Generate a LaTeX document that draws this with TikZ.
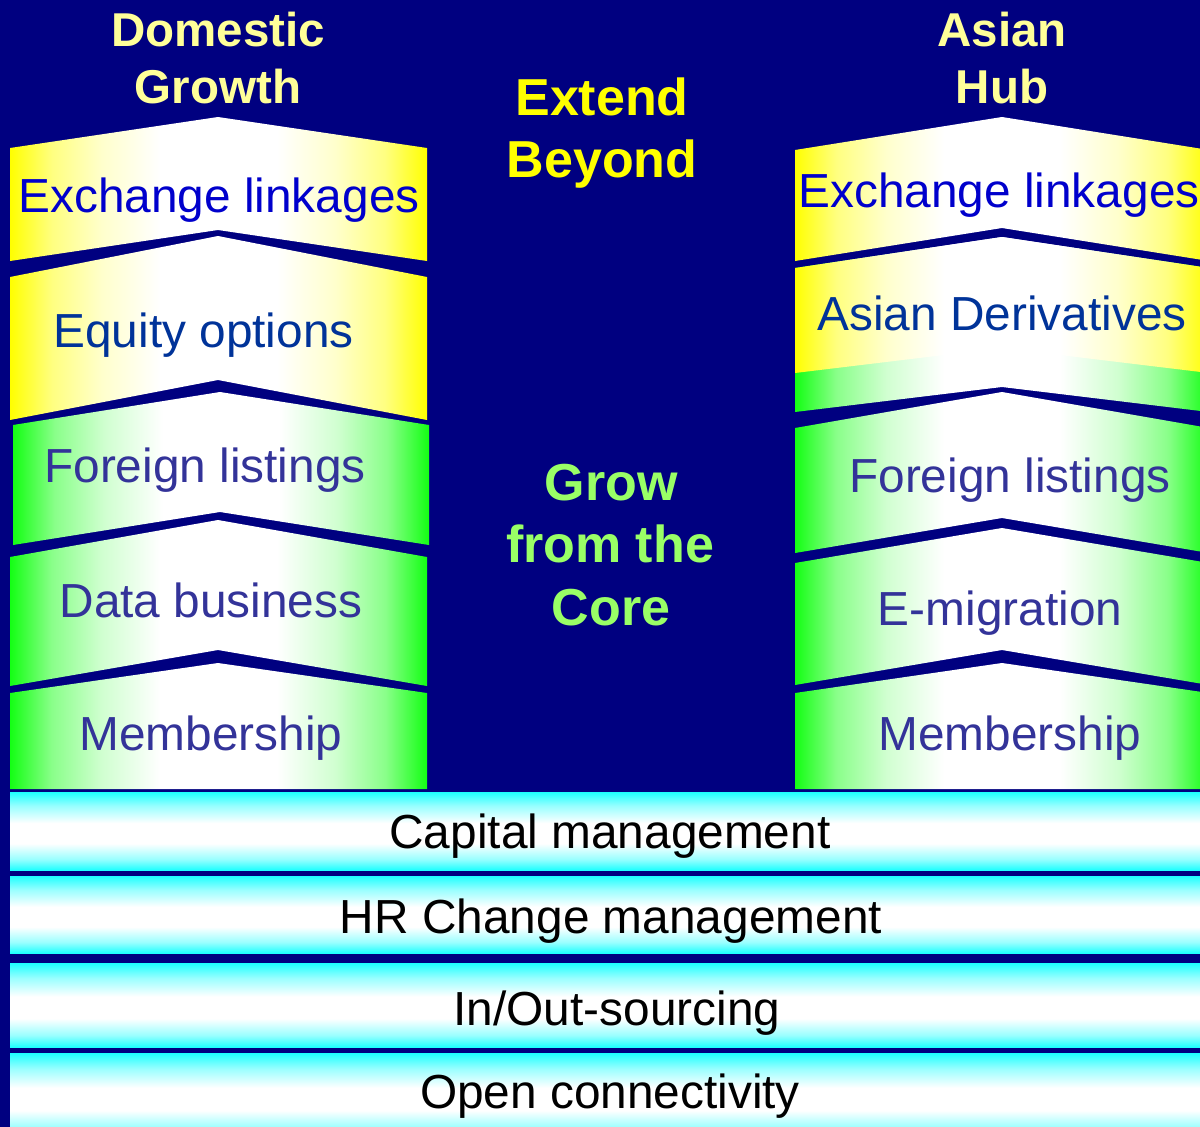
\documentclass[tikz,border=0pt]{standalone}
\usepackage{fontspec}
\setmainfont{Liberation Sans}
\definecolor{bg}{RGB}{0,0,128}
\definecolor{cy}{RGB}{255,255,0}
\definecolor{cg}{RGB}{20,255,20}
\definecolor{cc}{RGB}{30,255,255}
\colorlet{cy50}{cy!50!white}
\colorlet{cy20}{cy!20!white}
\colorlet{cg50}{cg!50!white}
\colorlet{cg20}{cg!20!white}
\colorlet{cc40}{cc!45!white}
\definecolor{hdryellow}{RGB}{255,255,153}
\definecolor{extyellow}{RGB}{255,255,0}
\definecolor{growgreen}{RGB}{153,255,102}
\definecolor{txtblue}{RGB}{0,0,204}
\definecolor{txtnavy}{RGB}{0,51,153}
\definecolor{txtpurple}{RGB}{51,51,153}
\pgfdeclarehorizontalshading{yshade}{100bp}{color(0bp)=(cy); color(25bp)=(cy); color(30bp)=(cy50); color(36bp)=(cy20); color(43bp)=(white); color(57bp)=(white); color(64bp)=(cy20); color(70bp)=(cy50); color(75bp)=(cy); color(100bp)=(cy)}
\pgfdeclarehorizontalshading{gshade}{100bp}{color(0bp)=(cg); color(25bp)=(cg); color(30bp)=(cg50); color(36bp)=(cg20); color(43bp)=(white); color(57bp)=(white); color(64bp)=(cg20); color(70bp)=(cg50); color(75bp)=(cg); color(100bp)=(cg)}
\pgfdeclareverticalshading{cshade}{100bp}{color(0bp)=(cc); color(25bp)=(cc); color(32bp)=(cc40); color(42bp)=(white); color(55bp)=(white); color(66bp)=(cc40); color(75bp)=(cc); color(100bp)=(cc)}
% #1 left x, #2 right x, #3 centre x, #4 top side y, #5 top peak y, #6 bottom side y, #7 bottom peak y, #8 shading
\newcommand\chevbox[8]{\shade[shading=#8] (#1,#4) -- (#3,#5) -- (#2,#4) -- (#2,#6) -- (#3,#7) -- (#1,#6) -- cycle;}
\tikzset{
  lbl/.style={inner sep=0pt, anchor=base, font=\fontsize{47.8pt}{57pt}\selectfont},
  hdr/.style={inner sep=0pt, anchor=base, font=\fontsize{47.5pt}{57pt}\selectfont\bfseries, text=hdryellow},
  big/.style={inner sep=0pt, anchor=base, font=\fontsize{52pt}{62pt}\selectfont\bfseries}
}
\begin{document}
\begin{tikzpicture}[x=1pt,y=-1pt]
\useasboundingbox (0,0) rectangle (1200,1127);
\clip (0,0) rectangle (1200,1127);
\fill[bg] (0,0) rectangle (1200,1127);
% left column
\chevbox{10}{427}{218}{148}{117}{261}{230}{yshade}
\chevbox{10}{427}{218}{277}{236}{420}{380}{yshade}
\chevbox{13}{429}{220}{425}{392}{545}{512}{gshade}
\chevbox{10}{427}{218}{557}{520}{686}{650}{gshade}
\chevbox{10}{427}{218}{693}{663}{789}{789}{gshade}
% right column
\chevbox{795}{1209}{1002}{150}{117}{261}{228}{yshade}
\chevbox{795}{1209}{1002}{268}{237}{412}{387}{gshade}
\chevbox{795}{1209}{1002}{268}{237}{373}{348}{yshade}
\chevbox{795}{1209}{1002}{428}{392}{553}{518}{gshade}
\chevbox{795}{1209}{1002}{563}{528}{685}{650}{gshade}
\chevbox{795}{1209}{1002}{693}{663}{789}{789}{gshade}
% bottom bands
\shade[shading=cshade] (10,792) rectangle (1210,870);
\shade[shading=cshade] (10,876) rectangle (1210,953);
\shade[shading=cshade] (10,963) rectangle (1210,1047);
\shade[shading=cshade] (10,1053) rectangle (1210,1140);
% headers
\node[hdr] (dom1) at (218,46) {Domestic};
\node[hdr] (dom2) at (218,103) {Growth};
\node[hdr] (asia1) at (1002,46) {Asian};
\node[hdr] (asia2) at (1002,103) {Hub};
\node[big, text=extyellow] (ext1) at (602,115) {Extend};
\node[big, text=extyellow] (ext2) at (602,177) {Beyond};
\node[big, text=growgreen] (grow1) at (611,500) {Grow};
\node[big, text=growgreen] (grow2) at (610,562) {from the};
\node[big, text=growgreen] (grow3) at (611,625) {Core};
% left labels
\node[lbl, text=txtblue] (lexch) at (219,212) {Exchange linkages};
\node[lbl, text=txtnavy] (lequ) at (203.5,347) {Equity options};
\node[lbl, text=txtpurple] (lfor) at (205,482) {Foreign listings};
\node[lbl, text=txtpurple] (ldata) at (211,617) {Data business};
\node[lbl, text=txtpurple] (lmem) at (211,750) {Membership};
% right labels
\node[lbl, text=txtblue] (rexch) at (999,207) {Exchange linkages};
\node[lbl, text=txtnavy] (rasd) at (1002,330) {Asian Derivatives};
\node[lbl, text=txtpurple] (rfor) at (1010,492) {Foreign listings};
\node[lbl, text=txtpurple] (remig) at (1000,625) {E-migration};
\node[lbl, text=txtpurple] (rmem) at (1010,750) {Membership};
% band labels
\node[lbl, text=black] (cap) at (610,848) {Capital management};
\node[lbl, text=black] (hr) at (611,933) {HR Change management};
\node[lbl, text=black] (src) at (617,1025) {In/Out-sourcing};
\node[lbl, text=black] (conn) at (610,1108) {Open connectivity};
\end{tikzpicture}
\end{document}
